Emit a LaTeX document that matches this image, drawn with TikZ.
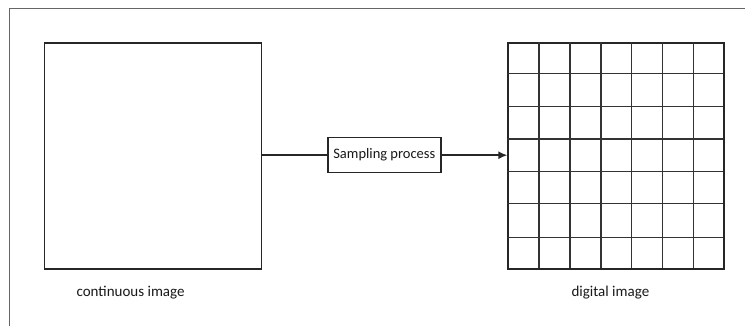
\documentclass[tikz,border=0pt]{standalone}
\usepackage{fontspec}
\setmainfont{Carlito}
\usetikzlibrary{arrows.meta}
\tikzset{
  boxline/.style={draw=black!85, line width=1.4pt},
  gridline/.style={draw=black!80, line width=1.2pt},
  frameline/.style={draw=black!60, line width=1pt},
  caption/.style={font=\fontsize{15}{17}\selectfont, text=black!90, inner sep=0pt},
  procbox/.style={boxline, fill=white, inner sep=0pt, minimum width=113pt, minimum height=35pt,
    font=\fontsize{14.5}{17}\selectfont, text=black!90},
  flow/.style={draw=black!85, line width=1.4pt},
}
\begin{document}
\begin{tikzpicture}[x=1pt,y=-1pt]
  \useasboundingbox (0,0) rectangle (745,326);
  \fill[white] (0,0) rectangle (745,326);

  % outer frame: only its top and left edges fall inside the page
  \coordinate (ftl) at (9.5,8.5);
  \coordinate (ftr) at (745,8.5);
  \coordinate (fbl) at (9.5,326);
  \draw[frameline] (ftr) -- (ftl) -- (fbl);

  % continuous image
  \node[boxline, minimum width=216.5pt, minimum height=226pt, inner sep=0pt, anchor=north west]
    (cont) at (44,42.3) {};

  % digital image: a 7 x 7 sampling grid
  \node[boxline, minimum width=216pt, minimum height=226pt, inner sep=0pt, anchor=north west]
    (dig) at (507.3,42.3) {};
  \foreach \gx in {539,570,601,631.7,662.7,693.3}
    \draw[gridline] (\gx,42.3) -- (\gx,268.3);
  \foreach \gy in {73.7,106.7,139,171.7,203.7,237.3}
    \draw[gridline] (507.3,\gy) -- (723.3,\gy);

  % sampling step
  \node[procbox] (samp) at (384.3,155.2) {Sampling process};

  \draw[flow] (cont.east |- samp.west) -- (samp.west);
  \draw[flow, -{Latex[length=9pt,width=8pt]}] (samp.east) -- (dig.west |- samp.east);

  % captions
  \node[caption] (contlbl) at (130.6,293) {continuous image};
  \node[caption] (diglbl) at (610.4,293) {digital image};
\end{tikzpicture}
\end{document}
